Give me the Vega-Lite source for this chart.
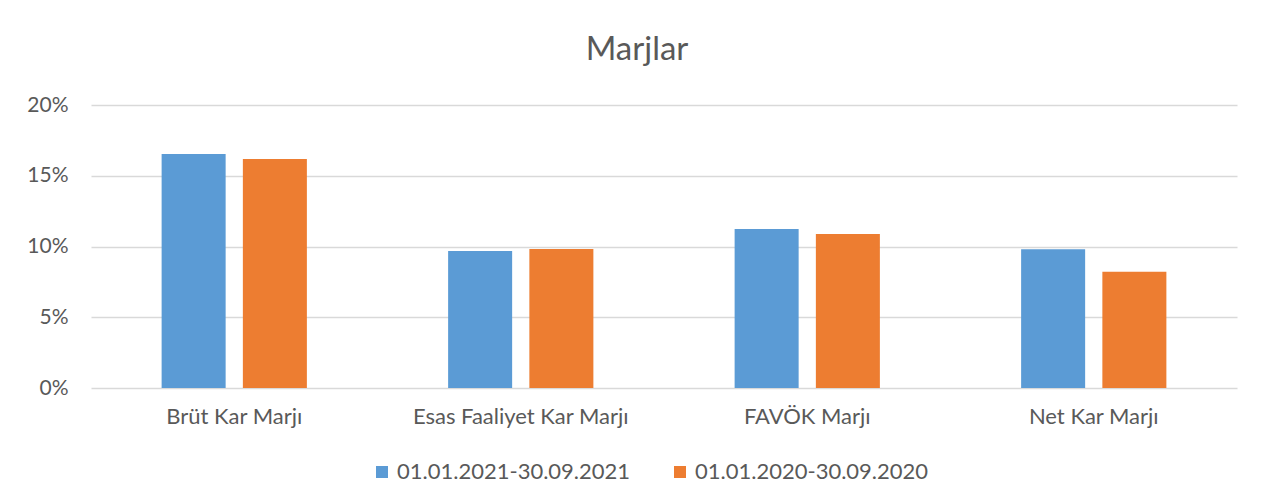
{
  "$schema": "https://vega.github.io/schema/vega-lite/v6.json",
  "width": 1146,
  "height": 283,
  "autosize": {"type": "none"},
  "padding": {"left": 91, "top": 105, "right": 30, "bottom": 116},
  "background": "white",
  "title": {
    "text": "Marjlar",
    "font": "Lato",
    "fontSize": 33,
    "fontWeight": "normal",
    "color": "#595959",
    "frame": "group",
    "anchor": "middle",
    "baseline": "alphabetic",
    "offset": 1,
    "dx": -27
  },
  "data": {
    "values": [
      {"kategori": "Brüt Kar Marjı", "donem": "01.01.2021-30.09.2021", "marj": 0.1653},
      {"kategori": "Brüt Kar Marjı", "donem": "01.01.2020-30.09.2020", "marj": 0.1618},
      {"kategori": "Esas Faaliyet Kar Marjı", "donem": "01.01.2021-30.09.2021", "marj": 0.0968},
      {"kategori": "Esas Faaliyet Kar Marjı", "donem": "01.01.2020-30.09.2020", "marj": 0.0982},
      {"kategori": "FAVÖK Marjı", "donem": "01.01.2021-30.09.2021", "marj": 0.1124},
      {"kategori": "FAVÖK Marjı", "donem": "01.01.2020-30.09.2020", "marj": 0.1088},
      {"kategori": "Net Kar Marjı", "donem": "01.01.2021-30.09.2021", "marj": 0.0980},
      {"kategori": "Net Kar Marjı", "donem": "01.01.2020-30.09.2020", "marj": 0.0822}
    ]
  },
  "mark": {"type": "bar"},
  "encoding": {
    "x": {
      "field": "kategori",
      "type": "nominal",
      "sort": ["Brüt Kar Marjı", "Esas Faaliyet Kar Marjı", "FAVÖK Marjı", "Net Kar Marjı"],
      "scale": {"paddingInner": 0.493, "paddingOuter": 0.2465},
      "axis": {
        "title": null,
        "labelAngle": 0,
        "labelFont": "Lato",
        "labelFontSize": 22,
        "labelColor": "#595959",
        "labelLimit": 0,
        "ticks": false,
        "domain": false,
        "grid": false,
        "labelPadding": 18
      }
    },
    "xOffset": {
      "field": "donem",
      "type": "nominal",
      "sort": ["01.01.2021-30.09.2021", "01.01.2020-30.09.2020"],
      "scale": {"paddingInner": 0.212, "paddingOuter": 0}
    },
    "y": {
      "field": "marj",
      "type": "quantitative",
      "scale": {"domain": [0, 0.2]},
      "axis": {
        "title": null,
        "format": ".0%",
        "values": [0, 0.05, 0.1, 0.15, 0.2],
        "domain": false,
        "ticks": false,
        "labelPadding": 23,
        "labelFont": "Lato",
        "labelFontSize": 21,
        "labelColor": "#595959",
        "gridColor": "#d9d9d9",
        "gridWidth": 1.5
      }
    },
    "color": {
      "field": "donem",
      "type": "nominal",
      "sort": ["01.01.2021-30.09.2021", "01.01.2020-30.09.2020"],
      "scale": {"range": ["#5b9bd5", "#ed7d31"]},
      "legend": {
        "title": null,
        "orient": "none",
        "legendX": 280,
        "legendY": 356,
        "direction": "horizontal",
        "symbolType": "square",
        "symbolSize": 144,
        "symbolStrokeWidth": 0,
        "labelFont": "Lato",
        "labelFontSize": 22,
        "labelColor": "#595959",
        "labelLimit": 0,
        "labelOffset": 4,
        "columnPadding": 38
      }
    }
  },
  "config": {"view": {"stroke": null}}
}
